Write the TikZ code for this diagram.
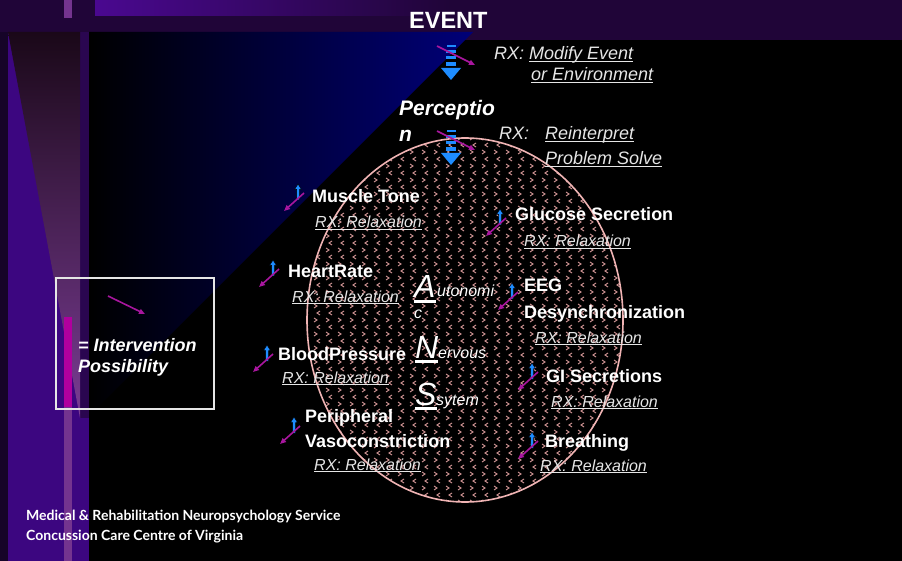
\documentclass[tikz,border=0pt]{standalone}
\usepackage{fontspec}
\setmainfont{Liberation Sans}
\newfontfamily\footfont{Lato}
\usetikzlibrary{arrows.meta}

\definecolor{bandpurple}{HTML}{200538}
\definecolor{brightpurple}{HTML}{4A0890}
\definecolor{sidepurple}{HTML}{3C0680}
\definecolor{sidedark}{HTML}{160428}
\definecolor{columnpurple}{HTML}{2A0650}
\definecolor{stripelight}{HTML}{74348F}
\definecolor{wedgetop}{HTML}{1A0818}
\definecolor{wedgebottom}{HTML}{7A3C94}
\definecolor{magentabar}{HTML}{B0009E}
\definecolor{navyblue}{HTML}{000078}
\definecolor{upblue}{HTML}{1E8CFF}
\definecolor{magarrow}{HTML}{A8169E}
\definecolor{ringpink}{HTML}{F0B4B4}
\definecolor{dotpink}{HTML}{D89A9A}
\definecolor{rxgray}{HTML}{E6E6E6}

% underline at a fixed distance below the baseline
\newcommand\ulx[1]{\setbox0=\hbox{#1}\rlap{\rule[-2.4pt]{\wd0}{1.1pt}}\box0}
\newcommand\bigul[1]{\setbox0=\hbox{#1}\rlap{\rule[-5pt]{\wd0}{3pt}}\box0}

\tikzset{
  txt/.style={inner sep=0pt, anchor=base west},
  lbl/.style={txt, text=white, font=\fontsize{18}{21}\selectfont\bfseries},
  rx/.style={txt, text=rxgray, font=\fontsize{16}{19}\selectfont\itshape},
  rxbig/.style={txt, text=rxgray, font=\fontsize{18}{21}\selectfont\itshape},
  bigletter/.style={txt, text=white, font=\fontsize{32}{36}\selectfont\itshape},
  smallword/.style={txt, text=white, font=\fontsize{16}{19}\selectfont\itshape},
  foot/.style={txt, text=white, font=\footfont\fontsize{14}{16}\selectfont\bfseries},
  magline/.style={draw=magarrow, line width=1.6pt, -{Triangle[length=6pt,width=5pt]}},
  patmark/.style={draw=dotpink, line width=0.9pt},
  % small rising arrow with a crossing intervention arrow
  riseicon/.pic={
    \filldraw[fill=upblue, draw=black, line width=0.5pt]
      (0,0) -- (3.5,5.5) -- (1.5,5.5) -- (1.5,16) -- (-1.5,16) -- (-1.5,5.5) -- (-3.5,5.5) -- cycle;
    \draw[magline] (6,9) -- (-14,27);
  },
  % dashed downward flow arrow with a crossing intervention arrow
  flowicon/.pic={
    \begin{scope}[fill=upblue]
      \fill (-4.5,0) rectangle (4.5,2.5);
      \fill (-5,5.5) rectangle (5,8.5);
      \fill (-5,11) rectangle (5,14.5);
      \fill (-5,17) rectangle (5,21);
      \fill (-10,23) -- (10,23) -- (0,35) -- cycle;
    \end{scope}
    \draw[magline] (-14,1) -- (24,20);
  }
}

\begin{document}
\begin{tikzpicture}[x=1pt,y=-1pt]
\useasboundingbox (0,0) rectangle (902,561);

% ---------- background ----------
\fill[black] (0,0) rectangle (902,561);
\fill[bandpurple] (0,0) rectangle (902,40);
\shade[left color=brightpurple, right color=bandpurple] (95,0) rectangle (450,16);
\fill[sidedark] (0,32) rectangle (8,561);
\fill[sidepurple] (8,32) rectangle (89,561);
\fill[columnpurple] (80,32) rectangle (89,418);
\shade[top color=wedgetop, bottom color=wedgebottom] (8,32) -- (80,32) -- (80,418) -- cycle;
\fill[stripelight] (64,0) rectangle (72,18);
\fill[stripelight] (64,407) rectangle (72,561);
\fill[magentabar] (64,317) rectangle (72,407);
\shade[left color=black, right color=navyblue] (89,32) -- (473,32) -- (89,416) -- cycle;

% ---------- nervous system ring ----------
\fill[black] (465,320) ellipse [x radius=158, y radius=182];
\begin{scope}
  \clip (465,320) ellipse [x radius=158, y radius=182];
  \foreach \r in {0,...,53}{
    \pgfmathsetmacro\yy{138+7*\r}
    \ifodd\r
      \draw[patmark] \foreach \c in {0,...,28}{ ({308+12*\c},{\yy-2}) -- ++(-3,2) -- ++(3,2) };
    \else
      \draw[patmark] \foreach \c in {0,...,28}{ ({302+12*\c},{\yy-2}) -- ++(3,2) -- ++(-3,2) };
    \fi
  }
\end{scope}
\draw[ringpink, line width=1.6pt] (465,320) ellipse [x radius=158, y radius=182];

% ---------- event and perception ----------
\node[txt, text=white, font=\fontsize{23.5}{27}\selectfont\bfseries] (event) at (409,29) {EVENT};
\pic at (451,45) {flowicon};
\node[rxbig] (rxmod) at (494,60) {RX: \ulx{Modify Event}};
\node[rxbig] (rxenv) at (531,81) {\ulx{or Environment}};

\node[txt, text=white, font=\fontsize{21}{24}\selectfont\bfseries\itshape] (perc) at (399,116) {Perceptio};
\node[txt, text=white, font=\fontsize{21}{24}\selectfont\bfseries\itshape] (percn) at (399,142) {n};
\pic at (451,130) {flowicon};
\node[rxbig] (rxre) at (499,140) {RX:};
\node[rxbig] (rxrei) at (545,140) {\ulx{Reinterpret}};
\node[rxbig] (rxps) at (545,165) {\ulx{Problem Solve}};

% ---------- autonomic nervous system ----------
\node[bigletter] (la) at (414,298) {\bigul{A}};
\node[smallword] (wa) at (437,297) {utonomi};
\node[smallword] (wc) at (414,318) {c};
\node[bigletter] (ln) at (415,358) {\bigul{N}};
\node[smallword] (wn) at (438,358) {ervous};
\node[bigletter] (ls) at (415,405) {\bigul{S}};
\node[smallword] (ws) at (436,405) {sytem};

% ---------- bodily responses ----------
\pic at (298,184) {riseicon};
\node[lbl] (muscle) at (312,203) {Muscle Tone};
\node[rx] (rxmuscle) at (315,228) {\ulx{RX: Relaxation}};

\pic at (500,209) {riseicon};
\node[lbl] (glucose) at (515,221) {Glucose Secretion};
\node[rx] (rxglucose) at (524,247) {\ulx{RX: Relaxation}};

\pic at (273,260) {riseicon};
\node[lbl] (heart) at (288,278) {HeartRate};
\node[rx] (rxheart) at (292,302) {\ulx{RX: Relaxation}};

\pic at (512,283) {riseicon};
\node[lbl] (eeg) at (524,292) {EEG};
\node[lbl] (desync) at (524,318) {Desynchronization};
\node[rx] (rxeeg) at (535,343) {\ulx{RX: Relaxation}};

\pic at (267,345) {riseicon};
\node[lbl] (blood) at (278,360) {BloodPressure};
\node[rx] (rxblood) at (282,383) {\ulx{RX: Relaxation}};

\pic at (532,363) {riseicon};
\node[lbl] (gi) at (546,382) {GI Secretions};
\node[rx] (rxgi) at (551,407) {\ulx{RX: Relaxation}};

\pic at (294,417) {riseicon};
\node[lbl] (periph) at (305,422) {Peripheral};
\node[lbl] (vaso) at (305,447) {Vasoconstriction};
\node[rx] (rxvaso) at (314,470) {\ulx{RX: Relaxation}};

\pic at (532,432) {riseicon};
\node[lbl] (breath) at (545,447) {Breathing};
\node[rx] (rxbreath) at (540,471) {\ulx{RX: Relaxation}};

% ---------- legend ----------
\draw[draw=rxgray, line width=1.8pt] (56,278) rectangle (214,409);
\coordinate (legfrom) at (108,296);
\coordinate (legto) at (145,314);
\draw[magline] (legfrom) -- (legto);
\node[txt, text=white, font=\fontsize{18}{21}\selectfont\bfseries\itshape] (leg1) at (78,351) {= Intervention};
\node[txt, text=white, font=\fontsize{18}{21}\selectfont\bfseries\itshape] (leg2) at (78,372) {Possibility};

% ---------- footer ----------
\node[foot] (foot1) at (26,520) {Medical \& Rehabilitation Neuropsychology Service};
\node[foot] (foot2) at (26,540) {Concussion Care Centre of Virginia};
\end{tikzpicture}
\end{document}
